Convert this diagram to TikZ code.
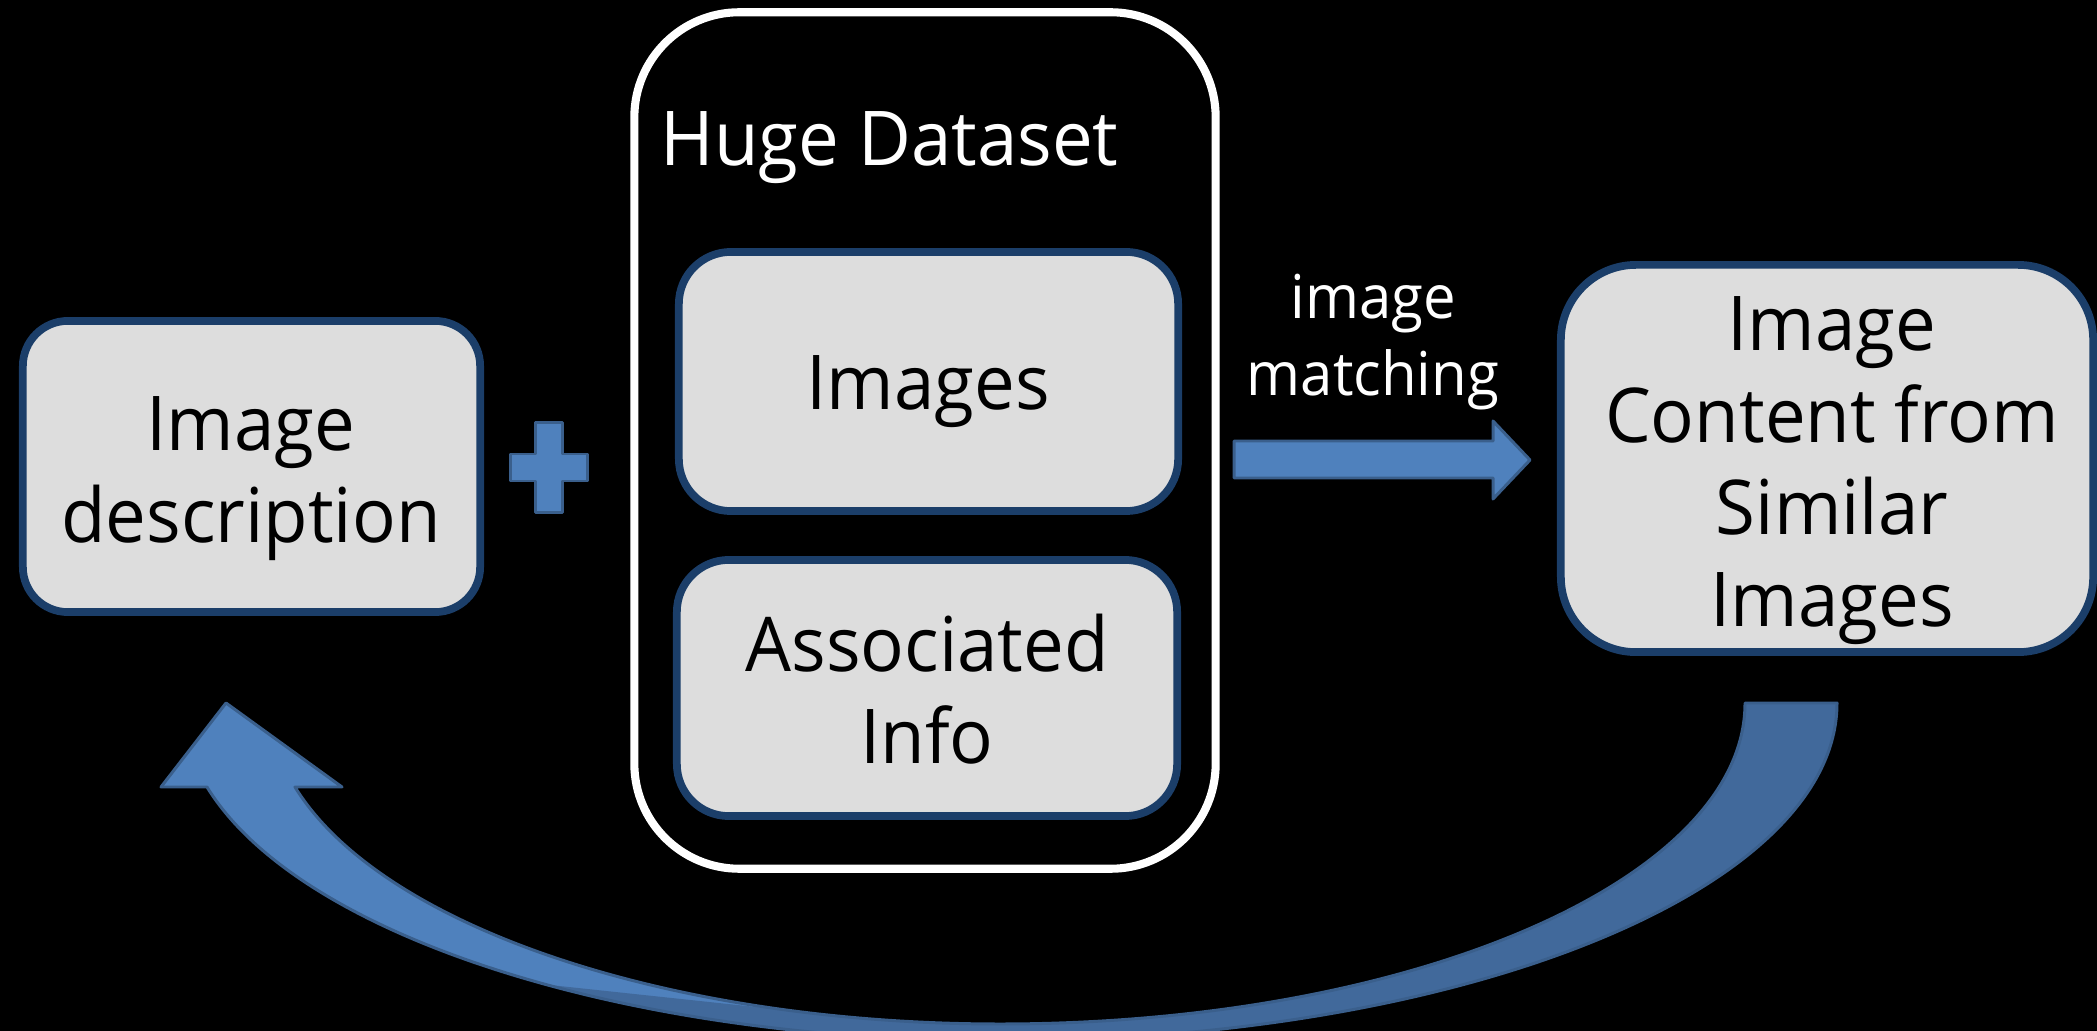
\documentclass[tikz,border=0pt]{standalone}
\usepackage{fontspec}
\setmainfont{Open Sans}[FakeStretch=0.96]
\definecolor{navy}{HTML}{1B3E69}
\definecolor{boxgray}{HTML}{DDDDDD}
\definecolor{blueL}{HTML}{4F81BD}
\definecolor{blueD}{HTML}{41699B}
\definecolor{blueO}{HTML}{3A5F8C}
\newcommand\bxfont{\fontsize{21.5pt}{26.2pt}\selectfont}
\newcommand\lbfont{\fontsize{17.2pt}{21.9pt}\selectfont}
\begin{document}
\begin{tikzpicture}[x=0.01cm,y=-0.01cm,
  graybox/.style={draw=navy,fill=boxgray,line width=2.2pt,rectangle,inner sep=0pt},
  boxtext/.style={font=\bxfont,align=center,inner sep=0pt,text=black},
  shapefill/.style={fill=blueL,draw=blueO,line width=0.85pt,line join=round}]
\useasboundingbox (0,0) rectangle (2097,1031);
\fill[black] (0,0) rectangle (2097,1031);
\clip (0,0) rectangle (2097,1031);

% curved return arrow
\begin{scope}
\clip (1745,703) -- (1837,703) .. controls (1837,890) and (1462,1041) .. (1000,1041)
  .. controls (626,1041) and (299,937) .. (207,787) -- (161,787) -- (226,703) -- (342,787) -- (295,787)
  .. controls (381,927) and (670,1024) .. (1000,1024) .. controls (1411,1024) and (1745,880) .. (1745,703) -- cycle;
\fill[blueL] (100,650) rectangle (2000,1100);
\fill[blueD] (550,985) -- (887,1021) -- (887,650) -- (2000,650) -- (2000,1100) -- (540,1100) -- cycle;
\end{scope}
\draw[blueO,line width=0.85pt,line join=round] (1745,703) -- (1837,703) .. controls (1837,890) and (1462,1041) .. (1000,1041)
  .. controls (626,1041) and (299,937) .. (207,787) -- (161,787) -- (226,703) -- (342,787) -- (295,787)
  .. controls (381,927) and (670,1024) .. (1000,1024) .. controls (1411,1024) and (1745,880) .. (1745,703) -- cycle;

% boxes
\node[graybox, minimum width=4.57cm, minimum height=2.91cm, rounded corners=0.45cm] (desc) at (251.5,466.5) {};
\node[draw=white, line width=2.3pt, inner sep=0pt, minimum width=5.81cm, minimum height=8.56cm, rounded corners=1.05cm] (dataset) at (925,440.5) {};
\node[graybox, minimum width=4.99cm, minimum height=2.59cm, rounded corners=0.52cm] (images) at (928.5,381.5) {};
\node[graybox, minimum width=5.00cm, minimum height=2.56cm, rounded corners=0.52cm] (assoc) at (927,688) {};
\node[graybox, minimum width=5.32cm, minimum height=3.87cm, rounded corners=0.75cm] (content) at (1827,458.5) {};

% texts
\node[boxtext] (desctxt) at (251,479) {Image\\description};
\node[boxtext] (imgtxt) at (928,392) {Images};
\node[boxtext] (assoctxt) at (927,689) {Associated\\Info};
\node[boxtext] (contenttxt) at (1832,470.5) {Image\\Content from\\Similar\\Images};
\node[font=\lbfont, align=center, inner sep=0pt, text=white] (match) at (1373,342) {image\\matching};
\node[font=\bxfont, inner sep=0pt, text=white, anchor=base west] (huge) at (660,166) {Huge Dataset};

% plus sign
\draw[shapefill] (535.5,422.5) -- (562.5,422.5) -- (562.5,454) -- (587.5,454) -- (587.5,481) -- (562.5,481)
  -- (562.5,512.5) -- (535.5,512.5) -- (535.5,481) -- (510.5,481) -- (510.5,454) -- (535.5,454) -- cycle;

% straight block arrow
\draw[shapefill] (1234,441) -- (1493,441) -- (1493,421) -- (1530,460) -- (1493,499) -- (1493,478) -- (1234,478) -- cycle;
\end{tikzpicture}
\end{document}
